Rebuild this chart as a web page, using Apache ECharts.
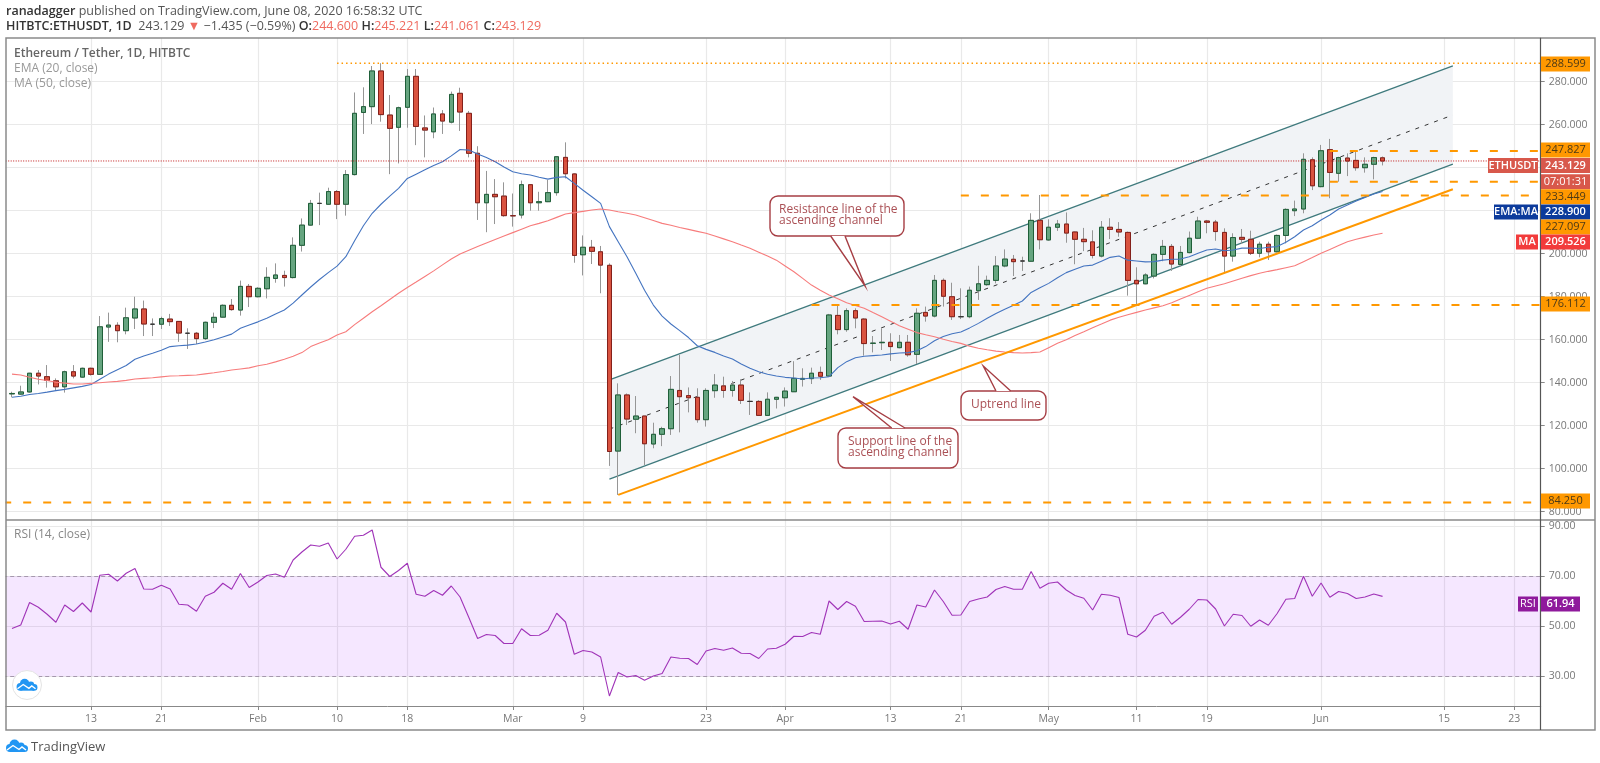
<!DOCTYPE html>
<html><head><meta charset="utf-8">
<style>html,body{margin:0;padding:0;background:#fff}#c{width:1600px;height:763px}</style>
<script src="https://cdn.jsdelivr.net/npm/echarts@6/dist/echarts.min.js"></script>
</head><body><div id="c"></div>
<script>
const opens=[134.8,134.7,135.7,144.4,142.8,140.9,138.1,145.1,142.6,146.7,143.9,165.9,166.7,164.2,170.1,174.3,167.2,167.2,169.6,168.5,163,163,160.5,168.1,170.5,176,173.8,184.8,180,183.7,188.5,189.9,188.9,203.9,213.3,223.4,223,228.9,223,236.8,265.7,268.4,285,264.5,258.8,268.1,282.5,258.5,256.7,265,261.2,274.6,265.3,246.7,223.7,227.6,226.8,217.7,218,232.1,223.7,224.2,228.4,244.8,237.1,199.5,203,200.9,194.6,108.2,134.3,123,124.5,111.5,116,118.6,136.4,134,133.2,122.8,136.3,138.5,136.4,138.9,131.3,131.3,124.8,132.3,133,135.8,141.6,141.9,144.8,143.1,171.3,164.7,173.5,169.6,158.3,158.6,158.8,156.3,158.8,153.2,172.7,171,187.6,180,170.7,170.7,182.8,185.6,187.6,194.3,197.4,196.6,196.5,215.5,206.4,212.3,213.8,210.1,206.7,205.5,198.9,212.3,211.3,209.9,187.6,186,189.6,199.7,203.4,195,200.5,207.2,215.2,214.7,209.9,198.9,207.6,206.7,200.2,204.4,200.9,208.5,220,220.8,243.7,231.2,248.4,237.4,244.5,243.4,240,241.6,244.6];
const closes=[135,135.7,144.4,143.1,141.1,138.1,145.1,143.1,146.7,143.9,166,166.8,164.2,170.2,174.3,167.3,167.2,169.8,168.4,163.1,163,160.5,168.1,170.4,176,174,184.8,180,183.9,189,190.1,188.9,203.9,213.3,223.4,223.4,228.9,223,236.8,265.3,268.4,285,264.7,258.3,267.9,282.5,259.2,257.5,265,261.7,274.1,265.9,246.7,223.7,227.6,226.5,217.7,217.6,232.1,223.7,224.2,228.4,245.1,237.2,199.2,203,201.1,194.7,108,134.3,123.1,124.5,111.6,116,118.6,136.9,133.5,133,122.8,136.4,138.9,136.4,138.9,131.8,131.3,124.8,132.3,133.2,136.1,142,142,144.4,143,171.5,164.7,173.5,170.1,158.2,158.4,158.8,156.8,158.8,153,172.3,171,187.6,180.2,170.7,170.7,183,186,187.6,194.3,197.5,196.3,196.6,215.5,206.5,212.3,213.8,209.6,206.7,205.6,199.2,212.3,211.3,210.1,187.6,186,190.1,199.7,203.4,195.2,200.6,207.2,215.2,214.6,210.3,198.9,207.5,206.7,200.2,204.4,200.9,208.5,220.6,220.8,243.9,231.6,247.9,237.8,244.7,243.1,240,241.6,244.7,243.13];
const highs=[135.8,138.6,144.6,145.9,148.2,142,145.6,148.2,147,147,171,172.6,168.1,174.9,180,178.2,169.9,170.7,172,168.7,165.3,163.6,168.4,172.6,176.4,178.9,187.5,185.9,184.4,193.7,195.5,192.1,207.6,216.4,225,228.4,230.7,229.6,238.9,275,277.4,287.3,288.6,273.8,268.4,285.9,285.9,264.3,268,266.8,275.4,277.2,266.4,250,238.5,234.7,233.2,228,234,232.4,228.8,234.3,245.4,251.8,237.4,208.5,206.4,203.6,195.5,139.7,135,133.8,124.5,121.4,119.5,143.1,152.9,137.8,137.4,137.4,144,142.8,140.8,141.6,135.5,131.9,135.5,133.4,137.8,150,146.7,147,147.5,172,176.6,174.6,174.6,170,161.7,165.3,163,162.2,162.2,174.6,175.4,190.1,188.5,186.5,183.9,184.7,194.4,189.8,198.9,202,199.4,198.6,218.8,227.3,216,215.7,219.2,210.3,212,210.9,215.2,216.5,214.7,210.3,193.7,190.9,200.2,206.4,204.5,203.6,210.3,217.2,215.7,215.7,211.8,209.5,211.5,210.7,205.6,205.6,208.9,221.1,224.7,246.7,244.8,250.6,253.4,245.1,246.7,248.2,244.8,245.1,245.22];
const lows=[133.2,134.3,135.4,139.2,137.7,136.3,135.4,142,142.3,143.3,143.6,159,158.8,162.5,165,161.7,161.7,165,166.4,159,155.7,158,159.9,165.4,170.2,173.5,171.2,175.2,179.7,179.2,186.5,184.7,188.5,201,213,213.3,222.7,216.1,217.7,236.4,255.7,260.3,261.4,237,242,258.6,250.5,244.8,253.7,255.7,260.6,257.1,244.8,215.7,210,213.8,217.2,212.6,216.4,220,220,224,227,235,195.8,189.9,195.2,181.6,101.3,87.8,120.3,116.5,101.7,109.5,110.5,115.7,116.9,126.2,121.4,119.6,133,133,133.5,130.1,125,124.5,124.5,128,128.9,135.8,138.2,139.4,141.3,142.8,162.5,163.7,165.3,152.6,154.1,155.2,150.1,156,152.1,148.7,168.4,170.4,175.4,169.2,169.6,170,178.5,185.1,186.2,193.7,189.6,192,196.2,202,206,210.6,205.1,195.1,201.2,197.8,198.3,206.8,207.9,180.5,176.2,185.8,188.5,196.5,192,194,200.2,206.8,209.5,206,191.3,196.3,204.5,199.4,198.3,197.1,200.6,204.8,217.5,218.8,229.6,230.9,225.8,233.5,236.1,238.6,237.7,234.6,241.06];
const emaValues=[133.2,133.7,134.5,135,135.6,136.3,136.9,137.6,138.3,139.2,141.6,144,146,148,150.9,152.4,153.7,155.1,156.8,157.2,157.5,158,158.9,160,161.3,162.6,165.3,166.8,168.3,170,172,173.8,177,180.8,184.5,188,191.2,194.2,198.6,206,213,218.8,223,226.8,230.4,235,237,239,241,242.8,245.5,248.5,248.2,246.4,244.8,242.8,240.3,238.1,237.2,236.6,235.6,234.7,235.5,235.8,232.7,229.5,226.5,223.4,212.6,205.6,198.6,190.9,183,176.1,171,167.3,164.2,161,157.2,155.5,154.1,152.4,151,148.7,146.7,145.1,143.9,143.1,142.5,142.2,141.7,142.2,142.3,142.8,147,149.8,151.6,152.3,152.6,152.9,153.4,153.8,154,154.9,156.8,159.5,161.5,162.8,163.6,165.5,167.6,170,172.2,174.2,176,178,182,184.2,186.2,188.8,191.2,192.8,194.3,194.7,196.5,198.3,198.9,197,196.6,196.2,196.3,197,197.4,197.5,198.6,200.2,201.7,202.2,201.4,201.7,202.6,202.6,202.4,203,203.3,205.3,207.9,211,213,215.7,218,220.8,222.7,224.5,226.2,227.8,228.9];
const maValues=[144,143.6,142.5,141.6,141,140.2,139.8,139.4,139.4,139.7,140,140.3,140.6,141.1,141.7,142,142.3,142.7,143.1,143.2,143.4,143.6,144.1,144.6,145.2,145.9,146.4,146.9,147.9,148.6,149.7,150.9,152.3,154,156.8,158.5,160,162.2,163.7,167,170,173,175.8,178.7,181.6,184.3,186.8,189.4,192,194.8,197.5,199.9,201.6,203.3,205,206.6,208.2,209.8,211.4,213,214.1,215.3,216.9,218.5,219.1,219.7,220.3,220.8,220.3,219.5,218.8,218,216.7,215.4,214.1,213.2,212.2,211.3,210.4,209.5,208.2,206.9,205.6,204,202.5,200.7,198.9,197,194.3,191.6,188.5,185.4,183,180.8,179,177.2,175.9,174.6,172.6,170.7,168.6,166.5,164.9,163.3,162.3,161.4,160.2,159.2,158.3,157,156,155.3,154.7,154.3,154,153.8,154,154.3,156.3,158.3,160,161.9,163.7,165.6,167.3,169.1,170.4,171.6,172.7,173.8,174.8,175.8,177.2,178.9,180.6,182.3,183.9,185,186,187.3,188.6,189.8,190.9,191.8,192.6,193.5,194.4,196.3,198.2,200.2,202,203.8,205.6,206.7,207.7,208.7,209.526];
const rsiValues=[49.1,50.5,59.5,57.6,54.8,51.6,58.5,55.9,59.3,55.7,70.4,70.8,68.1,71.2,73.1,64.9,64.8,66.4,64.9,58.8,58.5,56,62,63.6,67.2,64.8,71.1,65.5,67.7,70.3,70.9,69.6,76.5,79.7,82.5,82,83.3,76.9,80.8,86,86.4,88.5,73.6,69.9,72.3,75.2,62.8,62,64.3,62.4,66.1,61.7,53.5,45.1,46.7,46.3,43.1,43.1,49,46.3,46.4,48.4,55.2,51.7,38.8,40.3,39.7,37.7,22.1,31.5,29.7,30.3,28.4,30.1,31.1,37.7,37.2,37.1,34.7,40.1,41.1,40.4,41.3,39.2,39.1,37.1,40.9,41.2,42.8,46,45.9,47.5,46.8,60.1,56.7,59.9,58,51.9,52,52.1,50.9,52,48.8,58.5,57.7,64.5,59.9,54.4,54.5,59.9,60.9,61.7,64.7,65.9,64.8,64.8,71.9,65.2,67.2,67.7,64.5,62.3,61.2,56.5,62.8,62.4,61.5,46.8,45.7,48.4,54,55.6,50.8,53.6,56.8,60.7,60.5,56.9,50.1,54.8,54.3,50,52.5,50.4,55.1,60.8,61.1,70,62,67.3,61.6,63.9,63.1,61.1,61.7,62.9,61.94];

const tickDates=['2020-01-13','2020-01-21','2020-02-01','2020-02-10','2020-02-18','2020-03-01','2020-03-09','2020-03-23','2020-04-01','2020-04-13','2020-04-21','2020-05-01','2020-05-11','2020-05-19','2020-06-01','2020-06-15','2020-06-23'];
const tickTexts=['13','21','Feb','10','18','Mar','9','23','Apr','13','21','May','11','19','Jun','15','23'];
const priceTicks=[80,100,120,140,160,180,200,220,240,260,280];
const rsiTicks=[30,50,70,90];

const channelTop=[['2020-03-12',141.3],['2020-06-16',287.4]];
const channelMid=[['2020-03-12',118.4],['2020-06-16',264.5]];
const channelBottom=[['2020-03-12',95.2],['2020-06-16',241.7]];
const uptrend=[['2020-03-13',87.8],['2020-06-16',230]];

const levelValues=[288.599,247.827,233.449,227.097,176.112,84.25];
const levelStarts=['2020-02-10','2020-06-02','2020-06-02','2020-04-21','2020-04-04','2020-01-03'];
const lastPrice=243.129;

// categories: one per day, first one a leading empty day so the axis can begin left of the first candle
const dates=[];
(function(){let d=Date.UTC(2020,0,3);for(let i=0;i<176;i++){dates.push(new Date(d).toISOString().slice(0,10));d+=864e5;}})();
const lastDate=dates[dates.length-1];
const pad=a=>['-'].concat(a);
const tickMap={};tickDates.forEach((d,i)=>tickMap[d]=tickTexts[i]);
const isTick=(i,v)=>v in tickMap;

const FONT='"Open Sans",sans-serif';
const UP='#66a580',UPB='#1f5f39',DN='#d95340',DNB='#84201a',WICK='#969696';
const GRID='#e9e9e9',AX='#888888',TXT='#787878';

const wickData=pad(opens.map((o,i)=>[o,closes[i],lows[i],highs[i]]));
const bodyData=pad(opens.map((o,i)=>[o,closes[i],Math.min(o,closes[i]),Math.max(o,closes[i])]));

const L=3.2,R=59.3;
const xBase=(idx,show)=>({type:'category',gridIndex:idx,data:dates,boundaryGap:false,
  axisLine:{show:show,lineStyle:{color:AX}},
  axisTick:{show:show,interval:isTick,length:4,lineStyle:{color:AX}},
  axisLabel:{show:show,interval:isTick,formatter:v=>tickMap[v]||'',color:TXT,fontFamily:FONT,fontSize:10.5,margin:8},
  splitLine:{show:true,interval:isTick,lineStyle:{color:GRID,width:1.2}}});
const yBase=(idx,min,max,ticks,dec)=>({type:'value',gridIndex:idx,position:'right',min:min,max:max,scale:true,
  axisLine:{show:true,onZero:false,lineStyle:{color:'#555'}},
  axisTick:{show:true,length:4,lineStyle:{color:AX},customValues:ticks},
  axisLabel:{color:TXT,fontFamily:FONT,fontSize:10.5,margin:8,customValues:ticks,formatter:v=>v.toFixed(dec)},
  splitLine:{show:true,lineStyle:{color:GRID,width:1.2}}});

const drawLine=(name,data,color,width,type,z)=>({name,type:'line',data,xAxisIndex:0,yAxisIndex:0,symbol:'none',silent:true,z:z||3,
  lineStyle:{color,width,type:type||'solid'},animation:false});

const series=[
 {type:'custom',name:'channel fill',xAxisIndex:0,yAxisIndex:0,z:1,silent:true,clip:false,
  data:[[channelTop[0][0],channelTop[0][1],channelTop[1][0],channelTop[1][1],channelBottom[1][1],channelBottom[0][1]]],
  encode:{x:0,y:1},
  renderItem:(p,api)=>{
    const a=channelTop[0][0],b=channelTop[1][0];
    const pts=[api.coord([a,channelTop[0][1]]),api.coord([b,channelTop[1][1]]),api.coord([b,channelBottom[1][1]]),api.coord([a,channelBottom[0][1]])];
    return {type:'polygon',shape:{points:pts},style:{fill:'#f1f3f6'},silent:true};
  }},
 drawLine('channel top',channelTop,'#3f7a7d',1.3),
 drawLine('channel mid',channelMid,'#333333',1,[4,6]),
 drawLine('channel bottom',channelBottom,'#3f7a7d',1.3),
 {name:'ETHUSDT wicks',type:'candlestick',xAxisIndex:0,yAxisIndex:0,data:wickData,barWidth:5,z:4,silent:true,
  itemStyle:{color:WICK,color0:WICK,borderColor:WICK,borderColor0:WICK,borderColorDoji:WICK,borderWidth:1}},
 {name:'ETHUSDT',type:'candlestick',xAxisIndex:0,yAxisIndex:0,data:bodyData,barWidth:5,z:5,silent:true,
  itemStyle:{color:UP,color0:DN,borderColor:UPB,borderColor0:DNB,borderColorDoji:'#333',borderWidth:1}},
 drawLine('EMA 20',pad(emaValues),'#4474c0',1.1,null,6),
 drawLine('MA 50',pad(maValues),'#f77c7c',1.1,null,6),
 drawLine('uptrend',uptrend,'#ff9800',2,null,7),
 {name:'last price',type:'line',xAxisIndex:0,yAxisIndex:0,symbol:'none',silent:true,z:6,
  data:[[dates[0],lastPrice],[lastDate,lastPrice]],lineStyle:{color:'#c01414',width:1,type:[1,1.5]}},
 {name:'RSI',type:'line',xAxisIndex:1,yAxisIndex:1,data:pad(rsiValues),symbol:'none',silent:true,z:5,
  lineStyle:{color:'#a034b8',width:1.1},
  markArea:{silent:true,z:1,itemStyle:{color:'rgba(153,21,255,0.1)'},data:[[{yAxis:70},{yAxis:30}]]},
  markLine:{silent:true,symbol:'none',label:{show:false},lineStyle:{color:'#a598ad',width:1,type:[4,3]},data:[{yAxis:70},{yAxis:30}]}}
];
levelValues.forEach((v,i)=>{
  const dotted=i===0;
  series.push(drawLine('level '+v,[[levelStarts[i],v],[lastDate,v]],'#ff9800',dotted?1.5:2,dotted?[1.5,3]:[8,12],6));
});

// ---- overlay furniture -------------------------------------------------
const g=[];
g.push({type:'rect',z:90,silent:true,shape:{x:0,y:36,width:5.5,height:700},style:{fill:'#fff'}});
g.push({type:'rect',z:100,silent:true,shape:{x:6,y:38,width:1589,height:692},style:{fill:'none',stroke:'#8a8a8a',lineWidth:1.5}});
g.push({type:'line',z:100,silent:true,shape:{x1:6,y1:520,x2:1595,y2:520},style:{stroke:'#8a8a8a',lineWidth:1.5}});
g.push({type:'line',z:100,silent:true,shape:{x1:1540.5,y1:38,x2:1540.5,y2:730},style:{stroke:'#555',lineWidth:1.2}});

const T=(text,x,y,font,fill,z)=>({type:'text',z:z||110,silent:true,style:{text,x,y,font,fill,verticalAlign:'middle'}});
g.push({type:'text',z:110,silent:true,style:{x:6,y:11,verticalAlign:'middle',
  text:'{b|ranadagger} {n|published on TradingView.com, June 08, 2020 16:58:32 UTC}',
  rich:{b:{font:'600 12.5px '+FONT,fill:'#333'},n:{font:'12.5px '+FONT,fill:'#555'}}}});
g.push({type:'text',z:110,silent:true,style:{x:6,y:26,verticalAlign:'middle',
  text:'{b|HITBTC:ETHUSDT, 1D}  {n|243.129} {r|▼} {n|−1.435 (−0.59%)} {b|O:}{r|244.600} {b|H:}{r|245.221} {b|L:}{r|241.061} {b|C:}{r|243.129}',
  rich:{b:{font:'600 12.5px '+FONT,fill:'#333'},n:{font:'12.5px '+FONT,fill:'#555'},r:{font:'12.5px '+FONT,fill:'#ef6a5f'}}}});
g.push(T('Ethereum / Tether, 1D, HITBTC',14,54,'600 12px '+FONT,'#666'));
g.push(T('EMA (20, close)',14,69,'12px '+FONT,'#999'));
g.push(T('MA (50, close)',14,84,'12px '+FONT,'#999'));
g.push(T('RSI (14, close)',14,535,'12px '+FONT,'#888'));
g.push(T('TradingView',31,747,'13px '+FONT,'#555'));

// price-scale boxes (y positions are the stacked, de-overlapped label slots)
function box(text,x,y,w,fill,color,bold){
  g.push({type:'rect',z:105,silent:true,shape:{x:x,y:y-7.5,width:w,height:15},style:{fill:fill}});
  g.push({type:'text',z:110,silent:true,style:{text:text,x:x+w/2,y:y,align:'center',verticalAlign:'middle',font:(bold?'600 ':'')+'11px '+FONT,fill:color}});
}
const OR='#ff9800',ORT='#4d3a16';
box(levelValues[0].toFixed(3),1541,64,49,OR,ORT);
box(levelValues[1].toFixed(3),1541,150,49,OR,ORT);
box('ETHUSDT',1488,165.6,50,'#d8584b','#fff',1);
box(lastPrice.toFixed(3),1541,165.6,49,'#d8584b','#fff',1);
box('07:01:31',1541,181.7,49,'#d8584b','#fff');
box(levelValues[2].toFixed(3),1541,196.7,49,OR,ORT);
box('EMA:MA',1494,212,44,'#0c3b9c','#fff',1);
box(emaValues[emaValues.length-1].toFixed(3),1541,212,49,'#0c3b9c','#fff',1);
box(levelValues[3].toFixed(3),1541,227,49,OR,ORT);
box('MA',1516,242,22,'#f23b3b','#fff',1);
box(maValues[maValues.length-1].toFixed(3),1541,242,49,'#f23b3b','#fff',1);
box(levelValues[4].toFixed(3),1541,304,49,OR,ORT);
box('84.250',1541,501,49,OR,ORT);
box('RSI',1518,604,20,'#8f1a9c','#fff');
box(rsiValues[rsiValues.length-1].toFixed(2),1541,604,39,'#8f1a9c','#fff',1);

// callouts
function callout(x1,y1,x2,y2,tip,b1,b2,top,lines,tx,ty){
  const s='#a63e44';
  const by=top?y1:y2;
  g.push({type:'rect',z:60,silent:true,shape:{x:x1,y:y1,width:x2-x1,height:y2-y1,r:8},style:{fill:'#fff',stroke:s,lineWidth:1.4}});
  g.push({type:'polygon',z:61,silent:true,shape:{points:[[b1,by],tip,[b2,by]]},style:{fill:'#fff',stroke:'none'}});
  g.push({type:'polyline',z:62,silent:true,shape:{points:[[b1,by],tip,[b2,by]]},style:{fill:'none',stroke:s,lineWidth:1.4}});
  lines.forEach((t,i)=>g.push(T(t,tx,ty+i*11,'12px '+FONT,'#aa5055',63)));
}
callout(770,196,904,236,[865,286],830.7,845,false,['Resistance line of the','ascending channel'],779,210);
callout(838,428,958,468,[853,396.7],891.7,905,true,['Support line of the','ascending channel'],848,442);
callout(961,391,1046,420,[983.3,366],996,1010.7,true,['Uptrend line'],971,405);

// TradingView cloud marks
function cloud(cx,cy,s,z){
  const B='#2196f3';
  const c=(dx,dy,r)=>g.push({type:'circle',z:z,silent:true,shape:{cx:cx+dx*s,cy:cy+dy*s,r:r*s},style:{fill:B}});
  c(-7,2,4);c(-2.5,-1.5,5);c(4,0,3.6);c(7.5,2.5,3.5);
  g.push({type:'rect',z:z,silent:true,shape:{x:cx-7*s,y:cy+1*s,width:14.5*s,height:5*s},style:{fill:B}});
  g.push({type:'polyline',z:z+1,silent:true,shape:{points:[[cx-10*s,cy+4*s],[cx-4*s,cy-0.5*s],[cx+2*s,cy+3.5*s],[cx+5*s,cy+1*s],[cx+9*s,cy+4*s]]},style:{fill:'none',stroke:'#fff',lineWidth:1.4*s}});
}
g.push({type:'circle',z:108,silent:true,shape:{cx:27,cy:685,r:14.5},style:{fill:'#fff',stroke:'#e4e4e4',lineWidth:1}});
cloud(27,685,0.95,109);
cloud(17,746,1.0,109);

const chart=echarts.init(document.getElementById('c'),null,{renderer:'canvas'});
chart.setOption({
  animation:false,backgroundColor:'#fff',
  grid:[{left:L,right:R,top:38,height:482},{left:L,right:R,top:520,height:186}],
  xAxis:[xBase(0,false),xBase(1,true)],
  yAxis:[yBase(0,76.14,300.33,priceTicks,3),yBase(1,18.1,92.5,rsiTicks,2)],
  series:series,
  graphic:{elements:g}
});
</script></body></html>
